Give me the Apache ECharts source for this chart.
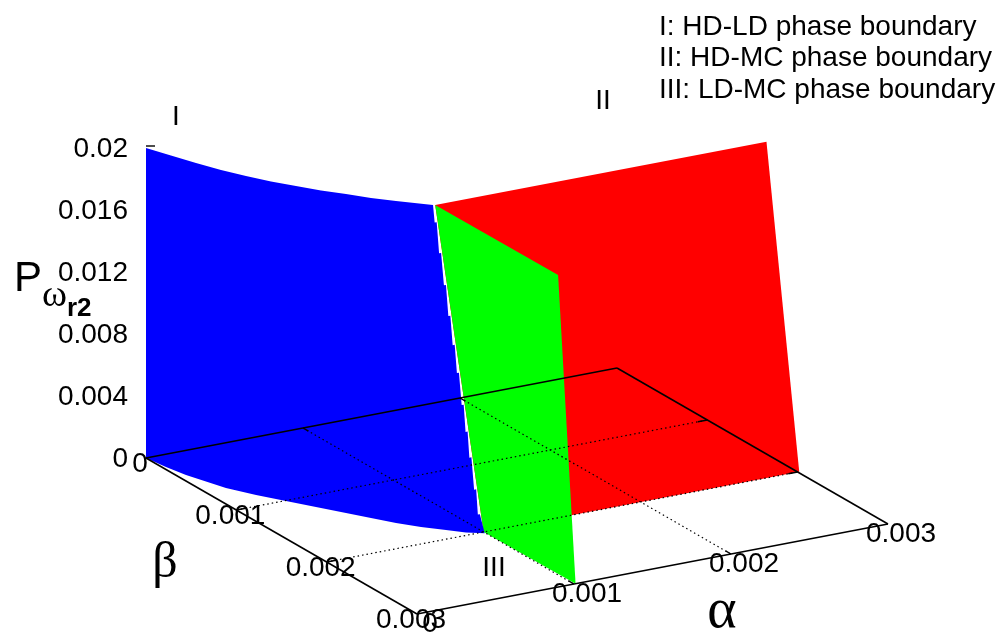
<!DOCTYPE html>
<html><head><meta charset="utf-8">
<style>html,body{margin:0;padding:0;background:#fff}#c{width:1000px;height:635px}</style>
<script src="https://cdn.jsdelivr.net/npm/echarts@6/dist/echarts.min.js"></script>
</head><body><div id="c"></div>
<script>
// ---- values (alpha, beta, P)
var alphaTicks=[0,0.001,0.002,0.003];
var betaTicks=[0,0.001,0.002,0.003];
var pTicks=[0,0.004,0.008,0.012,0.016,0.02];
var alphaTickLabels=['0','0.001','0.002','0.003'];
var betaTickLabels=['0','0.001','0.002','0.003'];
var pTickLabels=['0','0.004','0.008','0.012','0.016','0.02'];
var legendLines=['I: HD-LD phase boundary','II: HD-MC phase boundary','III: LD-MC phase boundary'];

// HD-LD boundary (blue): top curve at P=0.02, stepped edge, bottom curve at P=0
var blueTopAlpha=[0,0.000057,0.0001145,0.000176,0.0002456,0.0003195,0.0004016,0.0004838,0.0005743,0.0006606,0.0007553,0.000899];
var blueTopBeta=[0,0.000177,0.0003545,0.0005245,0.00068,0.0008286,0.0009625,0.0010965,0.001216,0.0013427,0.001455,0.001615];
var blueEdgeAlpha=[0.000895,0.000908,0.000903,0.000916,0.000912,0.000925,0.00092,0.000933,0.000928,0.000941,0.000936,0.000949,0.000945,0.000958,0.000952,0.000965,0.000959,0.000972,0.000968,0.000981,0.000975,0.000988];
var blueEdgeBeta=[0.00164,0.00164,0.001675,0.001675,0.001713,0.001713,0.001748,0.001748,0.001782,0.001782,0.001815,0.001815,0.001852,0.001852,0.001883,0.001883,0.001913,0.001913,0.00195,0.00195,0.001979,0.001979];
var blueEdgeP=[0.01896,0.01896,0.01708,0.01708,0.01512,0.01512,0.01324,0.01324,0.01146,0.01146,0.00976,0.00976,0.0078,0.0078,0.00616,0.00616,0.00458,0.00458,0.00262,0.00262,0.0011,0.0011];
var blueBottomAlpha=[0.000995,0.000911,0.0008365,0.000742,0.000656,0.0005775,0.0004995,0.000406,0.000312,0.000219,0.000133,0.00005,0.000021,0];
var blueBottomBeta=[0.00202,0.001958,0.001867,0.001755,0.001628,0.001487,0.001346,0.001176,0.001007,0.000838,0.000654,0.000356,0.000185,0];

// LD-MC boundary (green)
var greenAlpha=[0.00091,0.000916,0.00101,0.001];
var greenBeta=[0.00162,0.00297,0.003,0.002];
var greenP=[0.02,0.02,0,0];

// HD-MC boundary (red)
var redAlpha=[0.00091,0.00302,0.00301,0.001];
var redBeta=[0.00162,0.00162,0.002,0.002];
var redP=[0.02,0.02,0,0];

// ---- view of the 3D box on the flat plane
var O=[146,458], A=[157,-30], B=[90.33,52], Z=-15500;
function proj(a,b,p){
  a*=1000;b*=1000;
  return [O[0]+A[0]*a+B[0]*b, O[1]+A[1]*a+B[1]*b+Z*p];
}
function poly(al,be,pp){var r=[];for(var i=0;i<al.length;i++)r.push(proj(al[i],be[i],pp[i]));return r;}
function rep(v,n){var r=[];for(var i=0;i<n;i++)r.push(v);return r;}

var bluePts=poly(blueTopAlpha,blueTopBeta,rep(0.02,blueTopAlpha.length))
  .concat(poly(blueEdgeAlpha,blueEdgeBeta,blueEdgeP))
  .concat(poly(blueBottomAlpha,blueBottomBeta,rep(0,blueBottomAlpha.length)));
var redPts=poly(redAlpha,redBeta,redP);
var greenPts=poly(greenAlpha,greenBeta,greenP);

var amax=alphaTicks[3], bmax=betaTicks[3];
var segs=[];
function seg(p,q,w,dash){segs.push({p:p,q:q,w:w,dash:dash});}
// dotted floor grid and little solid ticks
[1,2].forEach(function(i){
  var v=alphaTicks[i];
  seg(proj(v,0,0),proj(v,bmax,0),1.2,[1.5,3]);
  seg(proj(v,0,0),proj(v,0.00006,0),1.4);
  seg(proj(v,bmax,0),proj(v,bmax-0.00006,0),1.4);
  v=betaTicks[i];
  seg(proj(0,v,0),proj(amax,v,0),1.2,[1.5,3]);
  seg(proj(0,v,0),proj(0.00006,v,0),1.4);
  seg(proj(amax,v,0),proj(amax-0.00006,v,0),1.4);
});
// floor frame
seg(proj(0,0,0),proj(amax,0,0),1.6);
seg(proj(amax,0,0),proj(amax,bmax,0),1.6);
seg(proj(amax,bmax,0),proj(0,bmax,0),1.6);
seg(proj(0,bmax,0),proj(0,0,0),1.6);
// the one vertical-axis tick showing above the surface
var pt=proj(0,0,0.02); seg([pt[0],pt[1]-2],[pt[0]+9,pt[1]-2],1.4);

function polySeries(pts,color){
  return {type:'custom',coordinateSystem:'cartesian2d',silent:true,animation:false,
    data:[[0,0]],clip:false,
    renderItem:function(params,api){
      return {type:'polygon',shape:{points:pts.map(function(p){return api.coord(p);})},
        style:{fill:color,stroke:null}};
    }};
}
var lineSeries={type:'custom',coordinateSystem:'cartesian2d',silent:true,animation:false,clip:false,
  data:segs.map(function(s,i){return [i];}),
  renderItem:function(params,api){
    var s=segs[params.dataIndex],a=api.coord(s.p),b=api.coord(s.q);
    return {type:'line',shape:{x1:a[0],y1:a[1],x2:b[0],y2:b[1]},
      style:{stroke:'#000',lineWidth:s.w,lineDash:s.dash||null}};
  }};

var SANS='"Liberation Sans",Arial,sans-serif';
var texts=[];
function t(str,x,y,align,size,font,weight){texts.push({type:'text',silent:true,x:x,y:y,
  style:{text:str,fill:'#000',font:(weight?weight+' ':'')+(size||28)+'px '+(font||SANS),textAlign:align||'center',textVerticalAlign:'middle'}});}
pTicks.forEach(function(v,i){var q=proj(0,0,v);t(pTickLabels[i],128,q[1]+1,'right');});
alphaTicks.forEach(function(v,i){var q=proj(v,bmax,0);t(alphaTickLabels[i],q[0]+13,q[1]+10,'center');});
betaTicks.forEach(function(v,i){var q=proj(0,v,0);t(betaTickLabels[i],q[0]-6,q[1]+6,'center');});
legendLines.forEach(function(s,i){t(s,659,27+i*31.5,'left');});
t('I',176,117);t('II',603,101);t('III',494,568);
t('P',14,279,'left',42);
t('ω',42,296,'left',38,'"Liberation Serif"');
t('r2',67,309,'left',26,SANS,'bold');
t('β',165,564,'center',50,'"Liberation Serif"');
t('α',722,612,'center',56,'"Liberation Serif"');

var chart=echarts.init(document.getElementById('c'),null,{renderer:'canvas'});
chart.setOption({
  backgroundColor:'#fff',animation:false,
  grid:{left:0,right:0,top:0,bottom:0},
  xAxis:{type:'value',min:0,max:1000,show:false},
  yAxis:{type:'value',min:0,max:635,inverse:true,show:false},
  series:[polySeries(redPts,'#ff0000'),polySeries(greenPts,'#00ff00'),polySeries(bluePts,'#0000ff'),lineSeries],
  graphic:{elements:texts}
});
</script></body></html>
